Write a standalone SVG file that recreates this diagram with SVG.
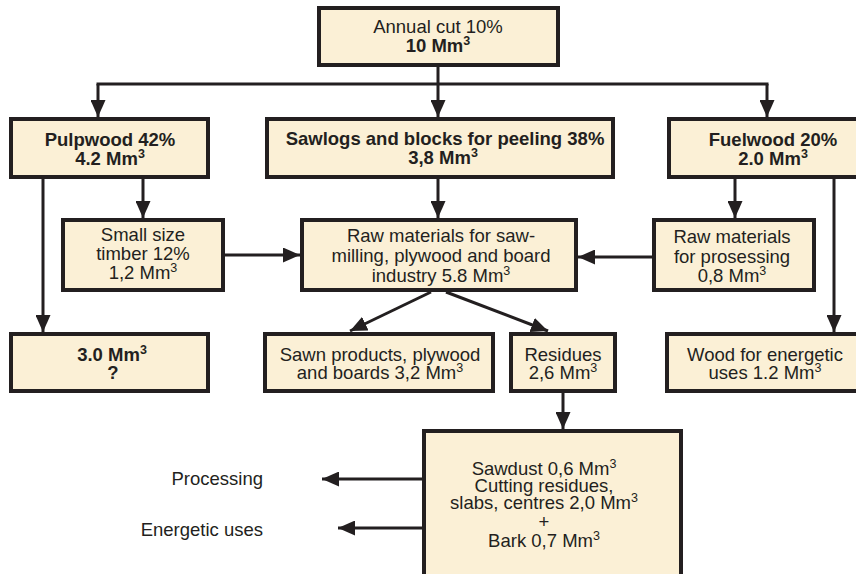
<svg xmlns="http://www.w3.org/2000/svg" width="856" height="574" viewBox="0 0 856 574">
<style>
.box{fill:#fbf0d6;stroke:#231f20;stroke-width:4}
.t{font-family:"Liberation Sans",Arial,sans-serif;font-size:18.5px;fill:#231f20;text-anchor:middle}
.b{font-weight:bold}
.l{text-anchor:end}
.sup{font-size:12.5px}
.c{fill:none;stroke:#231f20;stroke-width:3;marker-end:url(#ah)}
.n{fill:none;stroke:#231f20;stroke-width:3}
</style>
<defs>
<marker id="ah" markerUnits="userSpaceOnUse" markerWidth="17" markerHeight="15" refX="17" refY="7.5" orient="auto">
<path d="M0,0 L17,7.5 L0,15 z" fill="#231f20"/>
</marker>
</defs>
<rect width="856" height="574" fill="#ffffff"/>
<g id="connectors">
<line class="n" x1="438" y1="67" x2="438" y2="84"/>
<line class="n" x1="96.5" y1="84" x2="768.5" y2="84"/>
<line class="c" x1="98" y1="84" x2="98" y2="117"/>
<line class="c" x1="438" y1="84" x2="438" y2="117"/>
<line class="c" x1="767" y1="84" x2="767" y2="117"/>
<line class="c" x1="143" y1="179" x2="143" y2="218"/>
<line class="c" x1="43" y1="179" x2="43" y2="332"/>
<line class="c" x1="438" y1="177" x2="438" y2="218"/>
<line class="c" x1="225" y1="255" x2="300" y2="255"/>
<line class="c" x1="735" y1="179" x2="735" y2="218"/>
<line class="c" x1="834" y1="179" x2="834" y2="332"/>
<line class="c" x1="652" y1="257" x2="578" y2="257"/>
<line class="c" x1="431" y1="292" x2="350" y2="331"/>
<line class="c" x1="446" y1="292" x2="548" y2="331"/>
<line class="c" x1="563" y1="393" x2="563" y2="429"/>
<line class="c" x1="422" y1="479" x2="322" y2="479"/>
<line class="c" x1="422" y1="528" x2="338" y2="528"/>
</g>
<g id="annual-cut">
<rect class="box" x="319" y="8" width="239" height="57"/>
<text class="t"><tspan x="438" y="33">Annual cut 10%</tspan><tspan class="b" x="438" y="52">10 Mm</tspan><tspan class="b sup" dy="-7">3</tspan></text>
</g>
<g id="pulpwood">
<rect class="box" x="11" y="119" width="197" height="58"/>
<text class="t b"><tspan x="110" y="146">Pulpwood 42%</tspan><tspan x="110" y="165">4.2 Mm</tspan><tspan class="sup" dy="-7">3</tspan></text>
</g>
<g id="sawlogs">
<rect class="box" x="267" y="119" width="346" height="58"/>
<text class="t b"><tspan x="445" y="145">Sawlogs and blocks for peeling 38%</tspan><tspan x="443" y="164">3,8 Mm</tspan><tspan class="sup" dy="-7">3</tspan></text>
</g>
<g id="fuelwood">
<rect class="box" x="669" y="119" width="200" height="58"/>
<text class="t b"><tspan x="773" y="146">Fuelwood 20%</tspan><tspan x="773" y="165">2.0 Mm</tspan><tspan class="sup" dy="-7">3</tspan></text>
</g>
<g id="small-size">
<rect class="box" x="63" y="220" width="160" height="70"/>
<text class="t"><tspan x="143" y="241">Small size</tspan><tspan x="143" y="260">timber 12%</tspan><tspan x="143" y="279">1,2 Mm</tspan><tspan class="sup" dy="-7">3</tspan></text>
</g>
<g id="raw-materials">
<rect class="box" x="302" y="220" width="274" height="70"/>
<text class="t"><tspan x="441" y="242">Raw materials for saw-</tspan><tspan x="441" y="262">milling, plywood and board</tspan><tspan x="441" y="282">industry 5.8 Mm</tspan><tspan class="sup" dy="-7">3</tspan></text>
</g>
<g id="raw-processing">
<rect class="box" x="654" y="220" width="160" height="70"/>
<text class="t"><tspan x="732" y="243">Raw materials</tspan><tspan x="732" y="263">for prosessing</tspan><tspan x="732" y="282">0,8 Mm</tspan><tspan class="sup" dy="-7">3</tspan></text>
</g>
<g id="unknown">
<rect class="box" x="11" y="334" width="197" height="57"/>
<text class="t b"><tspan x="112" y="361">3.0 Mm</tspan><tspan class="sup" dy="-7">3</tspan><tspan x="113" y="379">?</tspan></text>
</g>
<g id="sawn-products">
<rect class="box" x="265" y="334" width="228" height="57"/>
<text class="t"><tspan x="380" y="361">Sawn products, plywood</tspan><tspan x="380" y="379">and boards 3,2 Mm</tspan><tspan class="sup" dy="-7">3</tspan></text>
</g>
<g id="residues">
<rect class="box" x="511" y="334" width="104" height="57"/>
<text class="t"><tspan x="563" y="361">Residues</tspan><tspan x="563" y="379">2,6 Mm</tspan><tspan class="sup" dy="-7">3</tspan></text>
</g>
<g id="wood-energetic">
<rect class="box" x="667" y="334" width="200" height="57"/>
<text class="t"><tspan x="765" y="361">Wood for energetic</tspan><tspan x="765" y="379">uses 1.2 Mm</tspan><tspan class="sup" dy="-7">3</tspan></text>
</g>
<g id="residue-breakdown">
<rect class="box" x="424" y="431" width="257" height="150"/>
<text class="t"><tspan x="544" y="475">Sawdust 0,6 Mm</tspan><tspan class="sup" dy="-7">3</tspan><tspan x="544" y="492">Cutting residues,</tspan><tspan x="544" y="509">slabs, centres 2,0 Mm</tspan><tspan class="sup" dy="-7">3</tspan><tspan x="544" y="528">+</tspan><tspan x="544" y="547">Bark 0,7 Mm</tspan><tspan class="sup" dy="-7">3</tspan></text>
</g>
<g id="processing">
<text class="t l" x="263" y="485">Processing</text>
</g>
<g id="energetic-uses">
<text class="t l" x="263" y="536">Energetic uses</text>
</g>
</svg>
